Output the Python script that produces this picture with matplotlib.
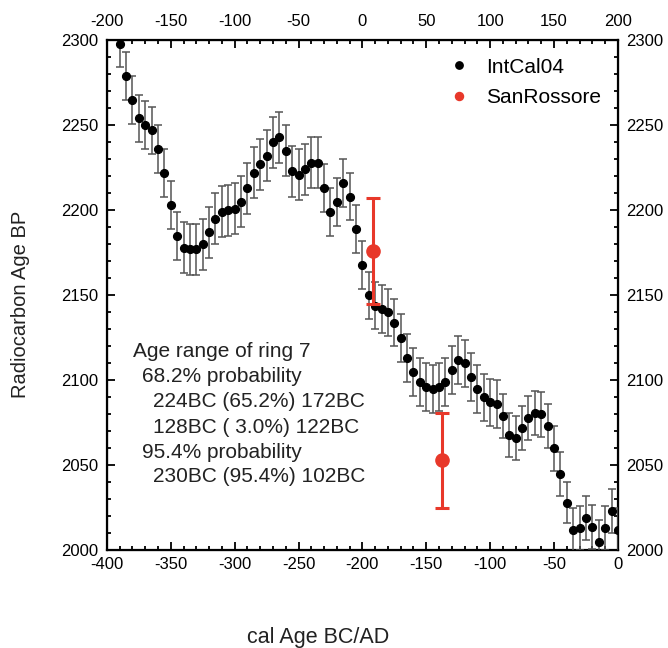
import matplotlib
matplotlib.use('Agg')
import matplotlib.pyplot as plt
from matplotlib.lines import Line2D
from matplotlib.ticker import MultipleLocator

plt.rcParams['font.family'] = ['Liberation Sans', 'DejaVu Sans']
plt.rcParams['axes.unicode_minus'] = False

# IntCal04 calibration curve (cal age BC/AD, 14C age BP, 1 sigma)
intcal_year = [-390, -385, -380, -375, -370, -365, -360, -355, -350, -345,
               -340, -335, -330, -325, -320, -315, -310, -305, -300, -295,
               -290, -285, -280, -275, -270, -265, -260, -255, -250, -245,
               -240, -235, -230, -225, -220, -215, -210, -205, -200, -195,
               -190, -185, -180, -175, -170, -165, -160, -155, -150, -145,
               -140, -135, -130, -125, -120, -115, -110, -105, -100, -95,
               -90, -85, -80, -75, -70, -65, -60, -55, -50, -45,
               -40, -35, -30, -25, -20, -15, -10, -5, 0]
intcal_age = [2298, 2279, 2265, 2254, 2250, 2247, 2236, 2222, 2203, 2185,
              2178, 2177, 2177, 2180, 2187, 2195, 2199, 2200, 2201, 2205,
              2213, 2222, 2227, 2232, 2240, 2243, 2235, 2223, 2221, 2224,
              2228, 2228, 2213, 2199, 2205, 2216, 2208, 2189, 2168, 2150,
              2144, 2142, 2140, 2134, 2125, 2113, 2105, 2099, 2096, 2095,
              2096, 2099, 2106, 2112, 2110, 2102, 2095, 2090, 2087, 2086,
              2079, 2068, 2066, 2072, 2078, 2081, 2080, 2073, 2060, 2045,
              2028, 2012, 2013, 2019, 2014, 2005, 2013, 2023, 2012]
intcal_err = [14, 14, 14, 14, 14, 14, 14, 14, 14, 14,
              15, 15, 15, 15, 15, 15, 15, 15, 15, 15,
              15, 15, 15, 15, 15, 15, 15, 15, 15, 15,
              15, 15, 14, 14, 14, 14, 14, 14, 14, 14,
              14, 14, 14, 14, 14, 14, 14, 14, 14, 14,
              14, 14, 14, 14, 14, 14, 14, 14, 14, 14,
              13, 13, 13, 13, 13, 13, 13, 13, 13, 13,
              12, 13, 13, 13, 13, 13, 13, 13, 13]

# San Rossore tree ring measurements
sr_year = [-192, -138]
sr_age = [2176, 2053]
sr_err = [31, 28]

note_lines = ['Age range of ring 7',
              '68.2% probability',
              '224BC (65.2%) 172BC',
              '128BC ( 3.0%) 122BC',
              '95.4% probability',
              '230BC (95.4%) 102BC']
note_indent = [0, 1, 2, 2, 1, 2]

red = '#e8382a'
fig = plt.figure(figsize=(6.68, 6.48), dpi=100)
ax = fig.add_axes([0.160, 0.1505, 0.765, 0.7875])

ax.errorbar(intcal_year, intcal_age, yerr=intcal_err, fmt='o', color='black',
            ms=5.6, ecolor='#555555', elinewidth=1.1, capsize=2.6, capthick=1.1, zorder=3)
ax.errorbar(sr_year, sr_age, yerr=sr_err, fmt='o', color=red, ms=9.5,
            ecolor=red, elinewidth=2.2, capsize=4.8, capthick=2.2, zorder=4)

ax.set_xlim(-400, 0)
ax.set_ylim(2000, 2300)
ax.xaxis.set_major_locator(MultipleLocator(50))
ax.xaxis.set_minor_locator(MultipleLocator(10))
ax.yaxis.set_major_locator(MultipleLocator(50))
ax.yaxis.set_minor_locator(MultipleLocator(10))
ax.tick_params(which='both', direction='in', width=1.3, labelsize=12,
               left=True, right=True, labelleft=True, labelright=True, top=False)
ax.tick_params(which='major', length=5.5)
ax.tick_params(which='minor', length=3)
ax.tick_params(axis='x', pad=5)
ax.tick_params(axis='y', pad=6)
for s in ax.spines.values():
    s.set_linewidth(1.6)

top = ax.twiny()
top.set_xlim(-200, 200)
top.xaxis.set_major_locator(MultipleLocator(50))
top.xaxis.set_minor_locator(MultipleLocator(10))
top.tick_params(which='both', direction='in', width=1.3, labelsize=12, pad=8)
top.tick_params(which='major', length=5.5)
top.tick_params(which='minor', length=3)

# text block
x_off = [0.051, 0.0685, 0.091]
line_y = [351.7, 376.7, 401.7, 427.3, 452.3, 476.7]
for txt, ind, yp in zip(note_lines, note_indent, line_y):
    ax.text(x_off[ind], (550.5 - yp) / 510.5, txt, transform=ax.transAxes,
            fontsize=15, ha='left', va='center', color='#222222')

handles = [Line2D([], [], ls='none', marker='o', color='black', ms=5.3),
           Line2D([], [], ls='none', marker='o', color=red, ms=5.8)]
ax.legend(handles, ['IntCal04', 'SanRossore'], loc='upper left',
          bbox_to_anchor=(0.668, 0.966), frameon=False, fontsize=15,
          handlelength=1.0, handletextpad=0.83, borderpad=0, borderaxespad=0,
          labelspacing=0.55)

fig.text(21 / 668, (648 - 304) / 648, 'Radiocarbon Age BP', rotation=90,
         fontsize=14.5, ha='center', va='center', color='#222222')
fig.text(318 / 668, (648 - 637) / 648, 'cal Age BC/AD', fontsize=15.5,
         ha='center', va='center', color='#222222')

fig.savefig('out.png', dpi=100)
